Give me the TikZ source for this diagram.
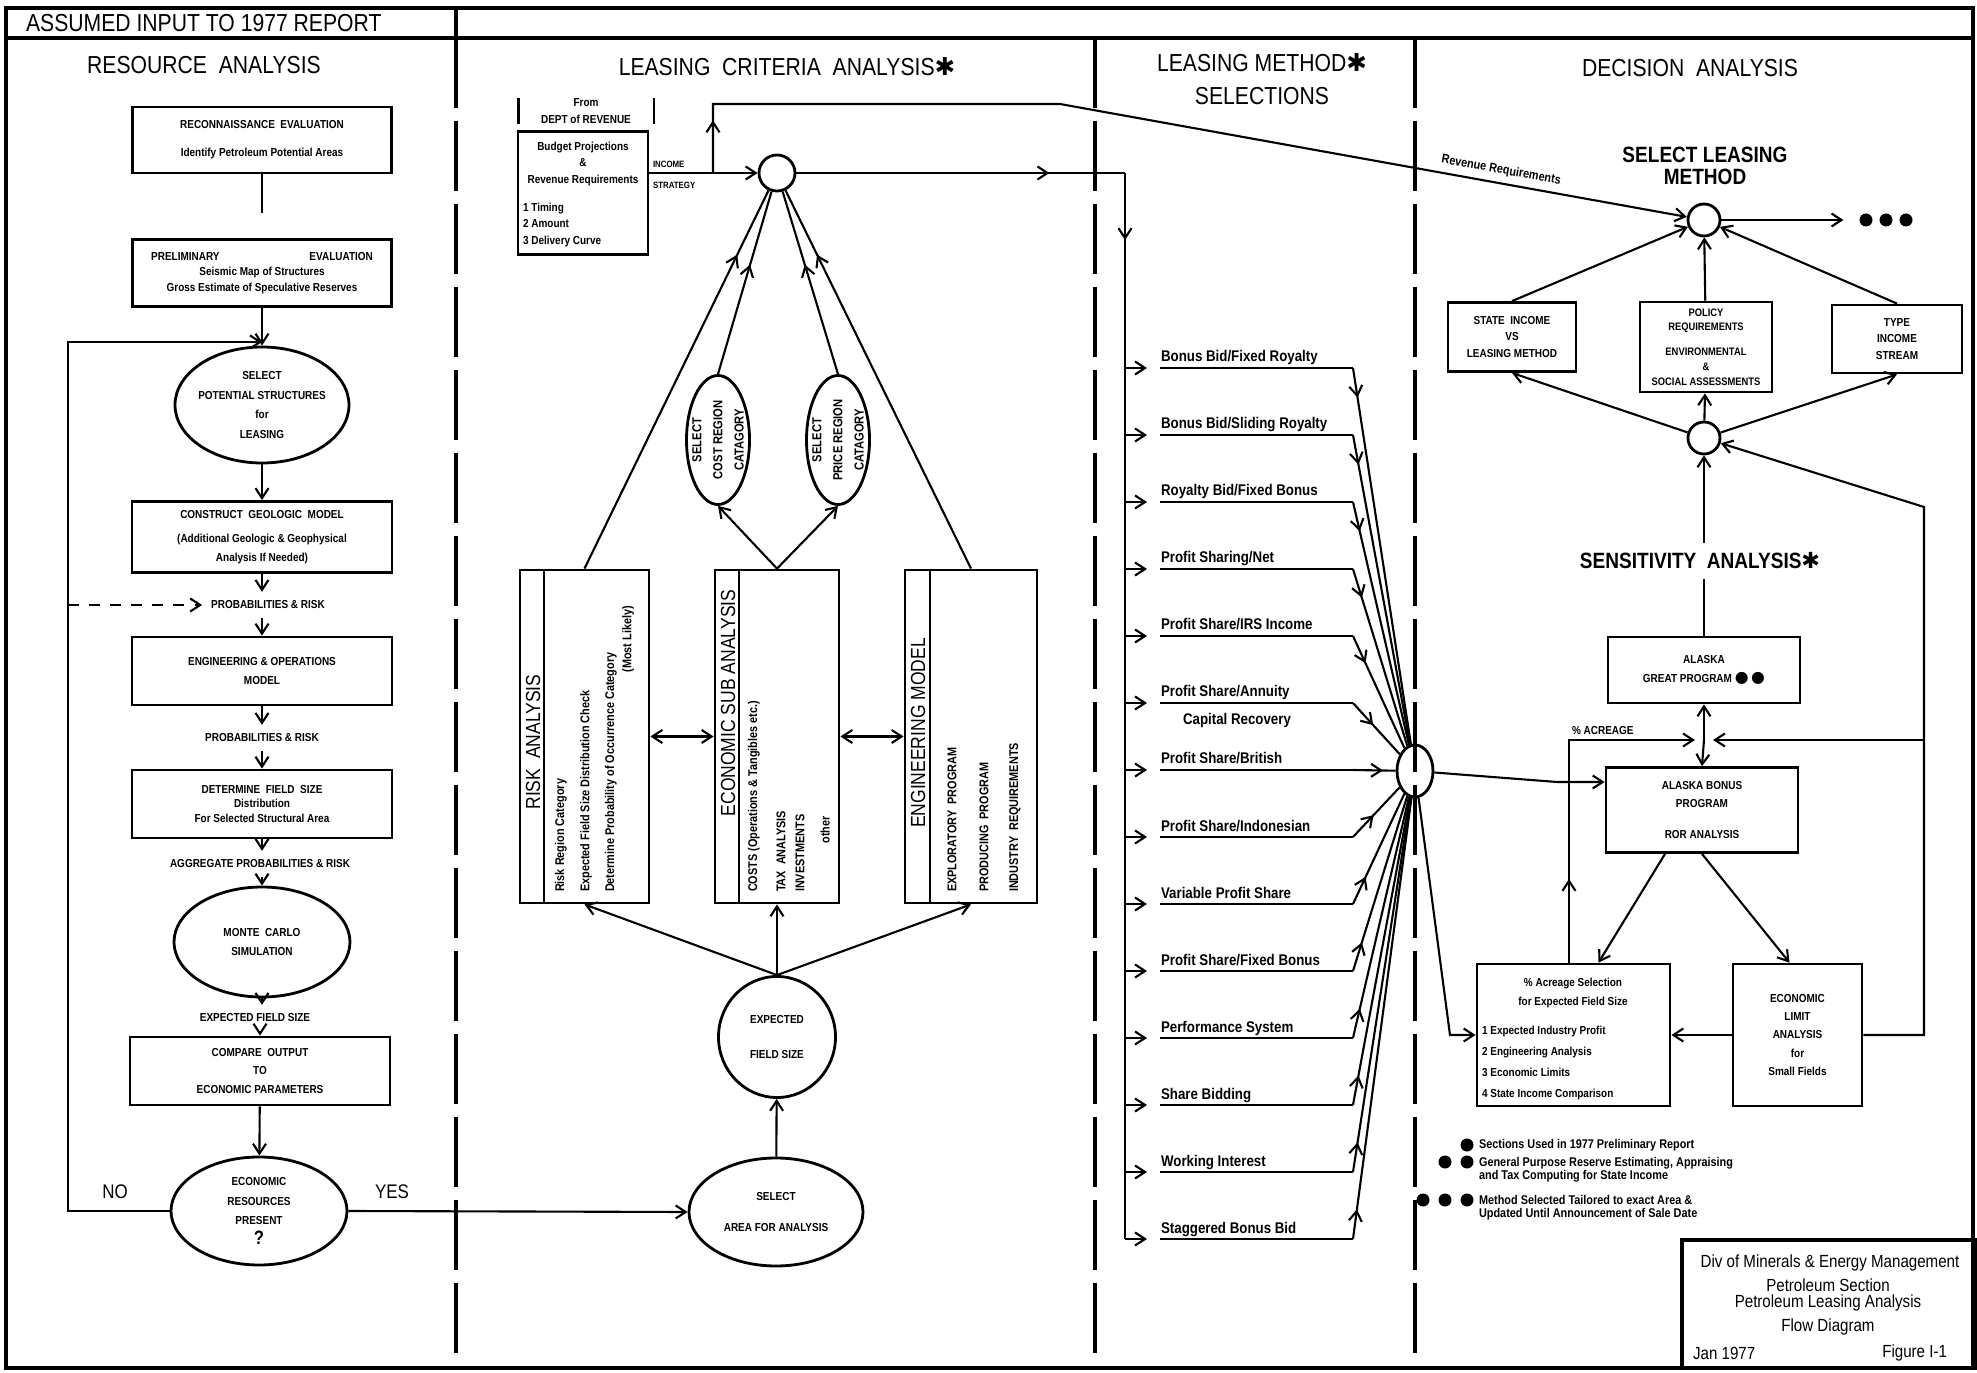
\documentclass[tikz,border=0pt]{standalone}
\usepackage{fontspec}
\setmainfont{Liberation Sans}[FakeStretch=0.86]
\newfontfamily\symfont{DejaVu Sans}
\usetikzlibrary{
  arrows.meta,          % 箭头样式
  shapes.geometric,     % 椭圆节点
  decorations.markings  % 线段中部箭头
}

% 字体
\newcommand\hdfont{\fontsize{7}{8.4}\selectfont}
\newcommand\subhdfont{\bfseries\fontsize{6.3}{6.4}\selectfont}
\newcommand\boxfont{\bfseries\fontsize{3.3}{5.2}\selectfont}
\newcommand\ovalfont{\bfseries\fontsize{3.3}{5.6}\selectfont}
\newcommand\catfont{\bfseries\fontsize{3.7}{6}\selectfont}
\newcommand\detfont{\bfseries\fontsize{3.6}{4}\selectfont}
\newcommand\stripfont{\fontsize{5.8}{6}\selectfont}
\newcommand\methfont{\bfseries\fontsize{4.4}{5}\selectfont}
\newcommand\incfont{\bfseries\fontsize{2.6}{3}\selectfont}
\newcommand\legfont{\bfseries\fontsize{3.6}{3.9}\selectfont}
\newcommand\ttlfont{\fontsize{5}{4.8}\selectfont}
\newcommand\ynfont{\fontsize{5.6}{6}\selectfont}

\begin{document}
\begin{tikzpicture}[x=0.1mm, y=-0.1mm, line width=0.6pt,
  >={Straight Barb[length=1mm,width=1.3mm]},
  box/.style={draw, line width=0.8pt, rectangle, inner sep=0pt, align=center, font=\boxfont},
  oval/.style={draw, line width=0.8pt, ellipse, inner sep=-3mm, align=center, font=\ovalfont},
  junction/.style={draw, line width=0.8pt, circle, inner sep=0pt, minimum size=3.4mm},
  lbl/.style={inner sep=0.8mm, align=center, font=\boxfont},
  colhead/.style={font=\hdfont, inner sep=0.5mm, align=center},
  subhead/.style={font=\subhdfont, align=center},
  striptxt/.style={rotate=90, font=\stripfont, inner sep=0pt},
  dettxt/.style={rotate=90, anchor=west, font=\detfont, inner sep=0pt},
  method/.style={font=\methfont, inner sep=0pt, anchor=base west},
  legendtxt/.style={font=\legfont, align=left, anchor=west, inner sep=0pt},
  ttl/.style={font=\ttlfont, align=center, inner sep=0pt},
  bigdot/.style={circle, fill, inner sep=0pt, minimum size=1.3mm},
  divider/.style={line width=0.9pt, dash pattern=on 7mm off 1.3mm},
  midarrow/.style={postaction={decorate}, decoration={markings, mark=at position #1 with {\arrow{>}}}},
  midarrow/.default=0.5]

  % 1. 外框与分栏
  \useasboundingbox (0,0) rectangle (1977,1373);
  \draw[line width=1pt] (6,8) rectangle (1973,1368);
  \draw[line width=1pt] (6,38) -- (1973,38);
  \draw[line width=1pt] (456,8) -- (456,38);
  \foreach \xd in {456,1095,1415}
    \draw[divider] (\xd,38) -- (\xd,1368);

  \node[colhead, anchor=west] (assumed) at (20,23) {ASSUMED INPUT TO 1977 REPORT};
  \node[colhead] (hdres) at (204,65) {RESOURCE\ \ ANALYSIS};
  \node[colhead] (hdcrit) at (787,67) {LEASING\ \ CRITERIA\ \ ANALYSIS{\symfont ✱}};
  \node[colhead] (hdmeth) at (1262,79) {LEASING METHOD{\symfont ✱}\\[0.8pt]SELECTIONS};
  \node[colhead] (hddec) at (1690,68) {DECISION\ \ ANALYSIS};

  % 2. 资源分析栏
  \node[box, minimum width=25.9mm, minimum height=6.6mm] (recon) at (262,140)
    {RECONNAISSANCE\ \ EVALUATION\\[1mm] Identify Petroleum Potential Areas};
  \node[box, minimum width=25.9mm, minimum height=6.7mm] (prelim) at (262,273)
    {PRELIMINARY\hspace{9mm}EVALUATION\\[-0.3mm] Seismic Map of Structures\\[-0.3mm] Gross Estimate of Speculative Reserves};
  \node[oval, minimum width=17.4mm, minimum height=11.6mm] (selstruct) at (262,405)
    {SELECT\\POTENTIAL STRUCTURES\\for\\LEASING};
  \node[box, minimum width=26mm, minimum height=7.1mm] (geomodel) at (262,537)
    {CONSTRUCT\ \ GEOLOGIC\ \ MODEL\\[0.6mm] (Additional Geologic \& Geophysical\\ Analysis If Needed)};
  \node[lbl] (probrisk1) at (268,605) {PROBABILITIES \& RISK};
  \node[box, minimum width=26mm, minimum height=6.8mm] (engops) at (262,671)
    {ENGINEERING \& OPERATIONS\\MODEL};
  \node[lbl] (probrisk2) at (262,738) {PROBABILITIES \& RISK};
  \node[box, minimum width=26mm, minimum height=6.8mm] (fieldsize) at (262,804)
    {DETERMINE\ \ FIELD\ \ SIZE\\[-0.4mm] Distribution\\[-0.4mm] For Selected Structural Area};
  \node[lbl] (aggrisk) at (260,864) {AGGREGATE PROBABILITIES \& RISK};
  \node[oval, minimum width=17.6mm, minimum height=11mm] (montecarlo) at (262,942)
    {MONTE\ \ CARLO\\SIMULATION};
  \node[lbl] (expsize) at (255,1018) {EXPECTED FIELD SIZE};
  \node[box, minimum width=26mm, minimum height=6.8mm] (compare) at (260,1071)
    {COMPARE\ \ OUTPUT\\TO\\ECONOMIC PARAMETERS};
  \node[oval, minimum width=17.6mm, minimum height=10.8mm] (econres) at (259,1211)
    {ECONOMIC\\RESOURCES\\PRESENT\\{\fontsize{5.5}{5.5}\selectfont ?}};
  \node[font=\ynfont] (nolbl) at (115,1192) {NO};
  \node[font=\ynfont] (yeslbl) at (392,1192) {YES};

  \coordinate (reconend) at (262,213);
  \coordinate (loopcorner) at (68,342);
  \coordinate (loopin) at (262,342);
  \draw (recon) -- (reconend);
  \draw[->] (prelim) -- (selstruct);
  \draw[->] (econres.west) -| (loopcorner) -- (loopin);
  \draw[->] (selstruct) -- (geomodel);
  \draw[->] (geomodel) -- (geomodel |- probrisk1.north);
  \draw[->, dashed] (probrisk1.west -| loopcorner) -- (probrisk1.west);
  \draw[->] (engops |- probrisk1.south) -- (engops);
  \draw[->] (engops) -- (probrisk2);
  \draw[->] (probrisk2) -- (fieldsize);
  \draw[->] (fieldsize) -- (fieldsize |- aggrisk.north);
  \draw[->] (montecarlo |- aggrisk.south) -- (montecarlo);
  \draw[->] (montecarlo) -- (montecarlo |- expsize.north);
  \draw[->] (compare |- expsize.south) -- (compare);
  \draw[->] (compare) -- (econres);

  % 3. 租赁标准分析栏
  \node[lbl, inner sep=0pt, minimum width=13.3mm, font=\boxfont\fontsize{3.3}{4.6}\selectfont] (fromrev) at (586,111)
    {From\\DEPT of REVENUE};
  \draw (fromrev.north west) -- (fromrev.south west);
  \draw (fromrev.north east) -- (fromrev.south east);
  \node[box, minimum width=13mm, minimum height=12.3mm] (budget) at (583,193) {};
  \node[lbl, inner sep=0pt, font=\boxfont\fontsize{3.3}{4.6}\selectfont] (budgettxt) at (583,164)
    {Budget Projections\\\&\\Revenue Requirements};
  \node[lbl, inner sep=0pt, align=left, anchor=west, font=\boxfont\fontsize{3.3}{4.8}\selectfont] (budgetlist) at (522,225)
    {1 Timing\\2 Amount\\3 Delivery Curve};

  \node[junction, minimum size=3.6mm] (incomejn) at (777,173) {};
  \node[font=\incfont, anchor=west, inner sep=0pt] (incomelbl) at (652,164) {INCOME};
  \node[font=\incfont, anchor=west, inner sep=0pt] (stratlbl) at (652,185) {STRATEGY};

  \node[oval, rotate=90, minimum width=12.9mm, minimum height=6.3mm, font=\catfont] (costcat) at (718,440)
    {SELECT\\COST REGION\\CATAGORY};
  \node[oval, rotate=90, minimum width=12.9mm, minimum height=6.3mm, font=\catfont] (pricecat) at (838,440)
    {SELECT\\PRICE REGION\\CATAGORY};

  \node[box, minimum width=12.9mm, minimum height=33.3mm] (risk) at (584.5,736.5) {};
  \node[box, minimum width=12.4mm, minimum height=33.3mm] (econsub) at (777,736.5) {};
  \node[box, minimum width=13.2mm, minimum height=33.3mm] (engmod) at (971,736.5) {};
  \draw ([xshift=2.5mm]risk.north west) -- ([xshift=2.5mm]risk.south west);
  \draw ([xshift=2.5mm]econsub.north west) -- ([xshift=2.5mm]econsub.south west);
  \draw ([xshift=2.6mm]engmod.north west) -- ([xshift=2.6mm]engmod.south west);

  \node[striptxt] (risktitle) at (533,742) {RISK\ \ ANALYSIS};
  \node[dettxt] (riskd1) at (561,893) {Risk Region Category};
  \node[dettxt] (riskd2) at (586,893) {Expected Field Size Distribution Check};
  \node[dettxt] (riskd3) at (611,893) {Determine Probability of Occurrence Category};
  \node[dettxt, anchor=east] (riskd4) at (628,605) {(Most Likely)};

  \node[striptxt] (econtitle) at (728,703) {ECONOMIC SUB ANALYSIS};
  \node[dettxt] (econd1) at (754,893) {COSTS (Operations \& Tangibles etc.)};
  \node[dettxt] (econd2) at (781,893) {TAX\ \ ANALYSIS};
  \node[dettxt] (econd3) at (800,893) {INVESTMENTS};
  \node[dettxt, anchor=center] (econd4) at (825,830) {other};

  \node[striptxt] (engtitle) at (918,733) {ENGINEERING MODEL};
  \node[dettxt] (engd1) at (952,893) {EXPLORATORY\ \ PROGRAM};
  \node[dettxt] (engd2) at (984,893) {PRODUCING\ \ PROGRAM};
  \node[dettxt] (engd3) at (1015,893) {INDUSTRY\ \ REQUIREMENTS};

  \node[oval, minimum width=11.7mm, minimum height=12.1mm] (fieldcirc) at (777,1037)
    {EXPECTED\\[1.5mm]FIELD SIZE};
  \node[oval, minimum width=17.4mm, minimum height=10.8mm] (selarea) at (776,1212)
    {SELECT\\[1.2mm]AREA FOR ANALYSIS};

  \draw[->] (budget.east |- incomejn) -- (incomejn);
  \draw[midarrow=0.83] (risk.north) -- (incomejn);
  \draw[midarrow=0.6] (costcat.east) -- (incomejn);
  \draw[midarrow=0.6] (pricecat.east) -- (incomejn);
  \draw[midarrow=0.83] (engmod.north) -- (incomejn);
  \draw[->] (econsub.north) -- (costcat.west);
  \draw[->] (econsub.north) -- (pricecat.west);
  \draw[<->] (risk) -- (econsub);
  \draw[<->] (econsub) -- (engmod);
  \draw[->] (fieldcirc.north) -- (risk.south);
  \draw[->] (fieldcirc.north) -- (econsub.south);
  \draw[->] (fieldcirc.north) -- (engmod.south);
  \draw[->] (selarea) -- (fieldcirc);
  \draw[->] (econres.east) -- (selarea.west);

  % 4. 租赁方式选择栏
  \node[draw, line width=0.8pt, ellipse, inner sep=0pt, minimum width=3.6mm, minimum height=5.2mm] (collect) at (1415,771) {};
  \coordinate (bustop) at (1125,173);
  \coordinate (busbot) at (1125,1239);
  \draw[midarrow=0.77] (incomejn.east) -- (bustop);
  \draw[midarrow=0.063] (bustop) -- (busbot);

  \foreach \mname [count=\i] in {Bonus Bid/Fixed Royalty, Bonus Bid/Sliding Royalty,
      Royalty Bid/Fixed Bonus, Profit Sharing/Net, Profit Share/IRS Income,
      Profit Share/Annuity, Profit Share/British, Profit Share/Indonesian,
      Variable Profit Share, Profit Share/Fixed Bonus, Performance System,
      Share Bidding, Working Interest, Staggered Bonus Bid}{
    \pgfmathsetmacro\my{368+67*(\i-1)}
    \coordinate (b\i) at (1125,\my);
    \coordinate (a\i) at (1147,\my);
    \coordinate (u\i) at (1353,\my);
    \node[method] (m\i) at (1160,\my-6) {\mname};
    \draw[->] (b\i) -- (a\i);
    \draw (m\i.base west |- u\i) -- (u\i);
    \draw[midarrow=3mm] (u\i) -- (collect);
  }
  \node[method, anchor=west] (m6b) at (1182,721) {Capital Recovery};

  % 5. 决策分析栏
  \node[subhead] (selhd) at (1705,166) {SELECT LEASING\\METHOD};
  \node[junction, minimum size=3.2mm] (selmethod) at (1704,220) {};
  \foreach \k/\dx in {1/1866,2/1886,3/1906}
    \node[bigdot] (dd\k) at (\dx,220) {};
  \draw[->] (selmethod) -- ([xshift=-1.5mm]dd1.west);

  \coordinate (revup) at (713,104);
  \coordinate (revbend) at (1060,104);
  \draw[->, midarrow=0.05] (incomejn.west -| revup) -- (revup) -- (revbend)
    -- node[sloped, above, pos=0.7, font=\detfont, inner sep=0.6mm] (revlbl) {Revenue Requirements} (selmethod);

  \node[box, minimum width=12.8mm, minimum height=6.9mm, font=\boxfont\fontsize{3.3}{4.6}\selectfont] (stateinc) at (1512,337)
    {STATE\ \ INCOME\\VS\\LEASING METHOD};
  \node[box, minimum width=13.2mm, minimum height=9mm, font=\boxfont\fontsize{3.1}{4.2}\selectfont] (policy) at (1706,347)
    {POLICY\\REQUIREMENTS\\[1mm]ENVIRONMENTAL\\\&\\SOCIAL ASSESSMENTS};
  \node[box, minimum width=13mm, minimum height=6.8mm, font=\boxfont\fontsize{3.3}{4.6}\selectfont] (incstream) at (1897,339)
    {TYPE\\INCOME\\STREAM};
  \node[junction, minimum size=3.2mm] (sensjn) at (1704,438) {};

  \draw[->] (stateinc.north) -- (selmethod);
  \draw[->] (policy) -- (selmethod);
  \draw[->] (incstream.north) -- (selmethod);
  \draw[->] (sensjn) -- (stateinc.south);
  \draw[->] (sensjn) -- (policy);
  \draw[->] (sensjn) -- (incstream.south);

  \node[box, minimum width=19.2mm, minimum height=6.6mm] (greatprog) at (1704,670)
    {ALASKA\\GREAT PROGRAM {\symfont\fontsize{4.5}{5}\selectfont ●\,●}};
  \node[box, minimum width=19.2mm, minimum height=8.5mm] (bonusprog) at (1702,810)
    {ALASKA BONUS\\PROGRAM\\[1.2mm]ROR ANALYSIS};
  \node[box, minimum width=19.3mm, minimum height=14.2mm] (acreage) at (1573.5,1035) {};
  \node[lbl, inner sep=0pt] (acrhead) at (1573,993) {\% Acreage Selection\\for Expected Field Size};
  \node[lbl, inner sep=0pt, align=left, anchor=west] (acrlist) at (1481,1063)
    {1 Expected Industry Profit\\[0.3mm]2 Engineering Analysis\\[0.3mm]3 Economic Limits\\[0.3mm]4 State Income Comparison};
  \node[box, minimum width=12.9mm, minimum height=14.2mm] (econlimit) at (1797.5,1035)
    {ECONOMIC\\LIMIT\\ANALYSIS\\for\\Small Fields};

  \draw[->] (greatprog) -- (sensjn);
  \node[subhead, fill=white, inner sep=1mm] (senshd) at (1700,561) {SENSITIVITY\ \ ANALYSIS{\symfont ✱}};

  \coordinate (acrjn) at (1704,740);
  \coordinate (lacr) at (1569,740);
  \coordinate (racr) at (1924,740);
  \coordinate (rtop) at (1924,507);
  \coordinate (rbot) at (1924,1035);
  \node[lbl, inner sep=0pt, anchor=south west] (acrlbl) at (1571,736) {\% ACREAGE};
  \draw[->] (econlimit.east) -- (rbot) -- (rtop) -- (sensjn);
  \draw[->] (racr) -- ([xshift=0.9mm]acrjn);
  \draw[->, midarrow=0.24] (acreage.north -| lacr) -- (lacr) -- ([xshift=-0.9mm]acrjn);
  \draw[->] (acrjn) -- (greatprog.south);
  \draw[->] (acrjn) -- (bonusprog.north);
  \draw[->] ([xshift=-3.7mm]bonusprog.south) -- ([xshift=2.5mm]acreage.north);
  \draw[->] (bonusprog.south) -- ([xshift=-0.8mm]econlimit.north);
  \draw[->] (econlimit) -- (acreage);

  \coordinate (bpin) at (1557,782);
  \coordinate (acin) at (1450,1035);
  \draw[->] (collect) -- (bpin) -- (bonusprog.west |- bpin);
  \draw[->] (collect) -- (acin) -- (acreage.west);

  % 6. 图例与图框
  \node[bigdot] (lg1a) at (1467,1145) {};
  \node[legendtxt] (lg1) at (1478,1145) {Sections Used in 1977 Preliminary Report};
  \node[bigdot] (lg2a) at (1445,1162) {};
  \node[bigdot] (lg2b) at (1467,1162) {};
  \node[legendtxt, anchor=north west] (lg2) at (1478,1156)
    {General Purpose Reserve Estimating, Appraising\\and Tax Computing for State Income};
  \node[bigdot] (lg3a) at (1423,1200) {};
  \node[bigdot] (lg3b) at (1445,1200) {};
  \node[bigdot] (lg3c) at (1467,1200) {};
  \node[legendtxt, anchor=north west] (lg3) at (1478,1194)
    {Method Selected Tailored to exact Area \&\\Updated Until Announcement of Sale Date};

  \node[draw, line width=0.9pt, minimum width=29.3mm, minimum height=12.8mm, inner sep=0pt] (titleblk) at (1828.5,1304) {};
  \node[ttl] (ttl1) at (1830,1263) {Div of Minerals \& Energy Management};
  \node[ttl] (ttl2) at (1828,1295) {Petroleum Section\\Petroleum Leasing Analysis};
  \node[ttl] (ttl3) at (1828,1327) {Flow Diagram};
  \node[ttl, anchor=west] (ttl4) at (1692,1353) {Jan 1977};
  \node[ttl, anchor=east] (ttl5) at (1948,1353) {Figure I-1};
\end{tikzpicture}
\end{document}
